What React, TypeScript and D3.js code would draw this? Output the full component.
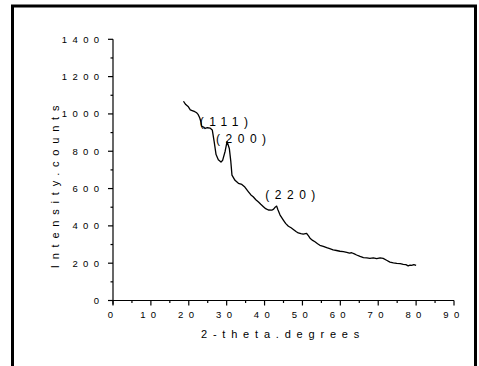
import React from "react";
import * as d3 from "d3";

const theta = [18.6, 19.2, 19.9, 20.4, 20.9, 21.6, 22.1, 22.5, 22.9, 23.2, 23.4, 23.9, 24.3, 24.9, 25.6, 26.2, 26.7, 27.2, 27.8, 28.5, 28.95, 29.6, 30.1, 30.7, 31.1, 31.4, 32.2, 33.1, 34.0, 34.8, 35.7, 36.4, 37.0, 37.7, 38.4, 39.0, 39.7, 40.3, 41.0, 41.9, 42.4, 42.8, 43.2, 43.5, 44.1, 45.0, 45.6, 46.3, 47.0, 47.6, 48.3, 48.9, 49.6, 50.2, 51.1, 51.6, 52.0, 52.7, 53.3, 54.0, 54.6, 55.5, 56.4, 57.2, 58.1, 59.0, 59.9, 60.8, 61.7, 62.4, 63.0, 63.7, 64.3, 65.2, 66.1, 67.0, 67.8, 68.7, 69.6, 70.5, 71.3, 72.2, 73.1, 74.0, 74.9, 75.8, 76.6, 77.3, 77.9, 78.4, 78.8, 79.4, 80.0];
const counts = [1068, 1050, 1038, 1022, 1018, 1012, 1006, 996, 978, 958, 934, 930, 922, 926, 924, 914, 852, 782, 754, 742, 752, 800, 852, 815, 744, 672, 644, 628, 622, 608, 584, 566, 556, 540, 528, 516, 503, 492, 485, 484, 490, 500, 506, 488, 458, 430, 412, 398, 390, 381, 370, 362, 358, 356, 360, 346, 334, 322, 315, 304, 296, 290, 283, 278, 271, 268, 264, 262, 258, 254, 256, 250, 244, 236, 230, 228, 226, 228, 224, 228, 226, 216, 206, 202, 199, 198, 194, 192, 186, 190, 188, 192, 188];

const xTicks = [0, 10, 20, 30, 40, 50, 60, 70, 80, 90];
const xMinor = [5, 15, 25, 35, 45, 55, 65, 75, 85];
const yTicks = [0, 200, 400, 600, 800, 1000, 1200, 1400];
const yMinor = [100, 300, 500, 700, 900, 1100, 1300];

const peakLabels = ["(111)", "(200)", "(220)"];
const peakTheta = [22.9, 27.2, 40.2];
const peakCounts = [935, 843, 542];

const xTitle = "2-theta.degrees";
const yTitle = "Intensity.counts";

const FONT = "'Liberation Sans', Arial, sans-serif";

export default function App() {
  const x = d3.scaleLinear().domain([0, 90]).range([113, 454]);
  const y = d3.scaleLinear().domain([0, 1400]).range([300.5, 39.3]);
  const line = d3
    .line<number>()
    .x((_, i) => x(theta[i]))
    .y((d) => y(d));
  const path = line(counts) || "";

  return (
    <svg
      width={479}
      height={366}
      style={{ position: "absolute", left: 0, top: 0, background: "#fff" }}
    >
      <rect x={0} y={0} width={479} height={366} fill="#fff" />
      <rect x={12.5} y={6} width={463} height={420} fill="none" stroke="#000" strokeWidth={3} />

      {/* axes */}
      <line x1={x(0)} x2={x(0)} y1={y(1400)} y2={y(0) + 4} stroke="#000" strokeWidth={1.2} />
      <line x1={x(0)} x2={x(90)} y1={y(0)} y2={y(0)} stroke="#000" strokeWidth={1.2} />

      {yTicks.map((t) => (
        <g key={"yt" + t}>
          <line x1={x(0) - 5} x2={x(0)} y1={y(t)} y2={y(t)} stroke="#000" strokeWidth={1.2} />
          <text
            x={x(0) - 8.5}
            y={y(t) + 3.5}
            textAnchor="end"
            fontFamily={FONT}
            fontSize={9.5}
            letterSpacing={5.4}
            fill="#000"
          >
            {String(t)}
          </text>
        </g>
      ))}
      {yMinor.map((t) => (
        <line key={"ym" + t} x1={x(0) - 2.5} x2={x(0)} y1={y(t)} y2={y(t)} stroke="#000" strokeWidth={1.2} />
      ))}

      {xTicks.map((t) => (
        <g key={"xt" + t}>
          <line x1={x(t)} x2={x(t)} y1={y(0)} y2={y(0) + 5} stroke="#000" strokeWidth={1.2} />
          <text
            x={x(t)}
            y={318}
            textAnchor="middle"
            fontFamily={FONT}
            fontSize={9.5}
            letterSpacing={5.4}
            fill="#000"
          >
            {String(t)}
          </text>
        </g>
      ))}
      {xMinor.map((t) => (
        <line key={"xm" + t} x1={x(t)} x2={x(t)} y1={y(0)} y2={y(0) + 2.5} stroke="#000" strokeWidth={1.2} />
      ))}

      <text
        x={283}
        y={338}
        textAnchor="middle"
        fontFamily={FONT}
        fontSize={11}
        letterSpacing={5.8}
        fill="#000"
      >
        {xTitle}
      </text>
      <text
        transform="translate(59,184) rotate(-90)"
        textAnchor="middle"
        fontFamily={FONT}
        fontSize={11}
        letterSpacing={5.8}
        fill="#000"
      >
        {yTitle}
      </text>

      <path d={path} fill="none" stroke="#000" strokeWidth={1.3} strokeLinejoin="round" />

      {peakLabels.map((lab, i) => (
        <text
          key={lab}
          x={x(peakTheta[i])}
          y={y(peakCounts[i])}
          fontFamily={FONT}
          fontSize={12}
          letterSpacing={5.5}
          fill="#000"
        >
          {lab}
        </text>
      ))}
    </svg>
  );
}
